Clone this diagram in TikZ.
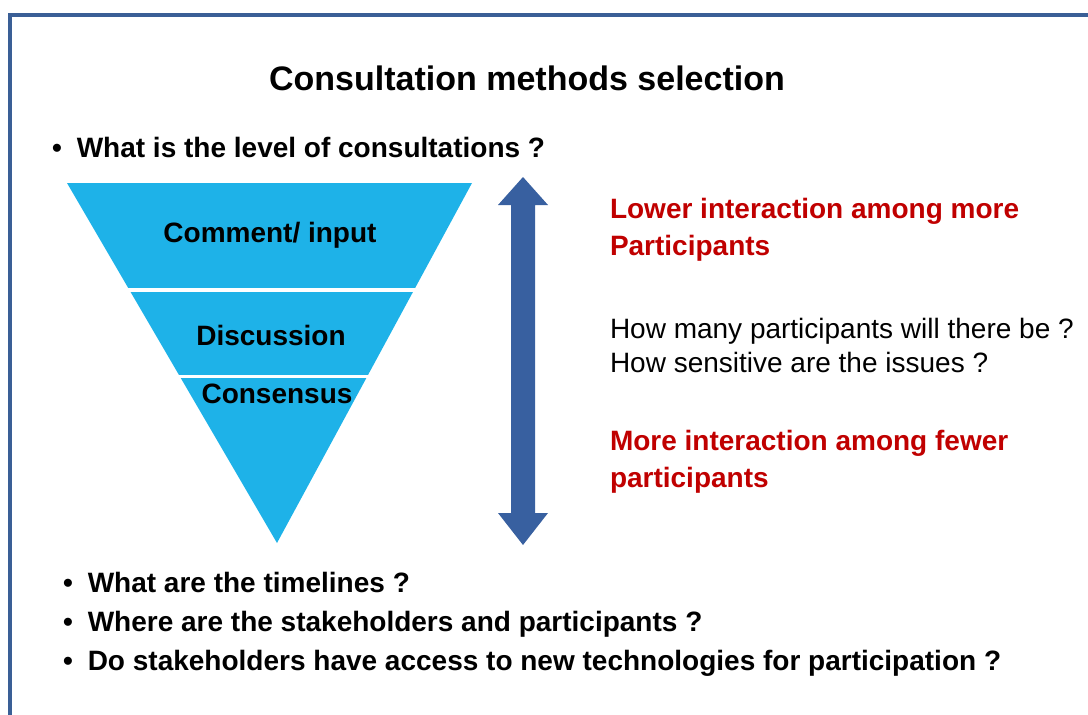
\documentclass[tikz,border=0pt]{standalone}
\usepackage{fontspec}
\setmainfont{Liberation Sans}
\usetikzlibrary{calc}

\definecolor{frameblue}{RGB}{58,95,150}
\definecolor{funnelblue}{RGB}{30,178,232}
\definecolor{arrowblue}{RGB}{56,96,160}
\definecolor{askred}{RGB}{192,0,0}

\begin{document}
\begin{tikzpicture}[x=1pt,y=-1pt,
        every node/.style={inner sep=0pt, outer sep=0pt},
        title/.style={font=\fontsize{34}{40}\selectfont\bfseries, anchor=base},
        question/.style={font=\fontsize{28}{39}\selectfont\bfseries, anchor=base west, align=left},
        level/.style={font=\fontsize{28}{34}\selectfont\bfseries, anchor=base},
        remark/.style={font=\fontsize{28}{37}\selectfont\bfseries, text=askred, anchor=base west, align=left},
        plain/.style={font=\fontsize{28}{34}\selectfont, anchor=base west, align=left}]
    \useasboundingbox (0,0) rectangle (1088,715);
    \draw[line width=4pt, frameblue] (10,15) rectangle (1120,750);

    \node[title] (head) at (527,90) {Consultation methods selection};
    \node[question] (q1) at (52,157) {\textbullet\hspace{15pt}What is the level of consultations ?};

    % funnel
    \coordinate (fl) at (67,183);
    \coordinate (fr) at (472,183);
    \coordinate (fa) at (277,543);
    \fill[funnelblue] (fl) -- (fr) -- (fa) -- cycle;
    \draw[white, line width=4pt] (40,289.5) -- (500,289.5);
    \draw[white, line width=3pt] (40,376) -- (500,376);
    \node[level] (comment) at (270,242) {Comment/ input};
    \node[level] (discuss) at (271,345) {Discussion};
    \node[level] (consensus) at (277,403) {Consensus};

    % double arrow
    \fill[arrowblue] (523,177) -- (548,205) -- (535,205) -- (535,513) -- (548,513)
        -- (523,545) -- (498,513) -- (511,513) -- (511,205) -- (498,205) -- cycle;

    % base anchor sits on the last line
    \node[remark] (lower) at (610,255) {Lower interaction among more\\Participants};
    \node[plain] (howmany) at (610,372) {How many participants will there be ?\\How sensitive are the issues ?};
    \node[remark] (more) at (610,487) {More interaction among fewer\\participants};

    \node[question] (q2) at (63,670) {\textbullet\hspace{15pt}What are the timelines ?\\
        \textbullet\hspace{15pt}Where are the stakeholders and participants ?\\
        \textbullet\hspace{15pt}Do stakeholders have access to new technologies for participation ?};
\end{tikzpicture}
\end{document}
